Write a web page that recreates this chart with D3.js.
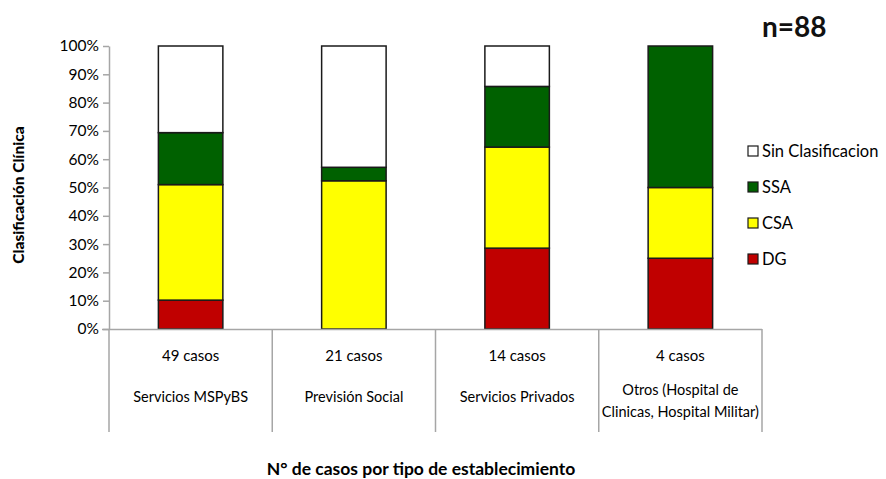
<!DOCTYPE html>
<html>
<head>
<meta charset="utf-8">
<script src="https://cdn.jsdelivr.net/npm/d3@7"></script>
<style>
  body { margin: 0; background: #fff; }
  text { font-family: Lato, "Open Sans", sans-serif; }
</style>
</head>
<body>
<script>
let w = 886;
let h = 479;

// cases per establishment and clinical class
let categories = ["Servicios MSPyBS", "Previsión Social", "Servicios Privados", "Otros (Hospital de|Clinicas, Hospital Militar)"];
let casos = ["49 casos", "21 casos", "14 casos", "4 casos"];
let dg  = [5, 0, 4, 1];
let csa = [20, 11, 5, 1];
let ssa = [9, 1, 3, 2];
let sin = [15, 9, 2, 0];
let seriesNames = ["DG", "CSA", "SSA", "Sin Clasificacion"];
let colors = ["#C00000", "#FFFF00", "#006100", "#FFFFFF"];
let yTicks = [0, 0.1, 0.2, 0.3, 0.4, 0.5, 0.6, 0.7, 0.8, 0.9, 1];

let rows = categories.map((c, i) => ({
    cat: c, "DG": dg[i], "CSA": csa[i], "SSA": ssa[i], "Sin Clasificacion": sin[i]
}));

let stacked = d3.stack()
    .keys(seriesNames)
    .offset(d3.stackOffsetExpand)(rows);

let mLeft = 109, mRight = 762, mTop = 46, mBottom = 329;

let x = d3.scaleBand()
    .domain(categories)
    .range([mLeft, mRight])
    .paddingInner(0)
    .paddingOuter(0);

let y = d3.scaleLinear().domain([0, 1]).range([mBottom, mTop]);

let color = d3.scaleOrdinal().domain(seriesNames).range(colors);

let svg = d3.select("body")
    .append("svg")
    .attr("width", w)
    .attr("height", h);

// cut-off title fragment (title sits above the visible area)
svg.append("text")
    .attr("x", 406)
    .attr("y", -4)
    .attr("font-size", 22)
    .attr("font-weight", "bold")
    .attr("fill", "#1f3864")
    .text("y");

svg.append("text")
    .attr("x", 762)
    .attr("y", 37)
    .attr("font-size", 28)
    .attr("font-weight", "bold")
    .attr("fill", "#111")
    .text("n=88");

// y axis
let yAxis = svg.append("g")
    .attr("transform", `translate(${mLeft},0)`)
    .call(d3.axisLeft(y).tickValues(yTicks).tickFormat(d3.format(".0%")).tickSize(6).tickSizeOuter(0));
yAxis.select(".domain").attr("stroke", "#a6a6a6").attr("stroke-width", 1.5);
yAxis.selectAll(".tick line").attr("stroke", "#a6a6a6").attr("stroke-width", 1.5);
yAxis.selectAll(".tick text")
    .attr("font-size", 15.5)
    .attr("fill", "#000")
    .attr("x", -10)
    .style("font-family", "Lato, sans-serif");

// bars
let barW = x.bandwidth() * 0.395;
svg.selectAll("g.layer")
    .data(stacked)
    .enter()
    .append("g")
    .attr("class", "layer")
    .attr("fill", d => color(d.key))
    .selectAll("rect")
    .data(d => d.filter(s => s[1] - s[0] > 0))
    .enter()
    .append("rect")
    .attr("x", d => x(d.data.cat) + (x.bandwidth() - barW) / 2)
    .attr("y", d => y(d[1]))
    .attr("width", barW)
    .attr("height", d => y(d[0]) - y(d[1]))
    .attr("stroke", "#1a1a1a")
    .attr("stroke-width", 1.5);

// category table
let grid = svg.append("g").attr("stroke", "#a6a6a6").attr("stroke-width", 1.5);
grid.append("line")
    .attr("x1", mLeft - 7).attr("x2", mRight)
    .attr("y1", mBottom + 0.5).attr("y2", mBottom + 0.5);
let edges = categories.map(c => x(c)).concat([x.range()[1]]);
grid.selectAll("line.sep")
    .data(edges)
    .enter()
    .append("line")
    .attr("class", "sep")
    .attr("x1", d => d).attr("x2", d => d)
    .attr("y1", mBottom).attr("y2", 432);

let lab = svg.append("g");
categories.forEach((c, i) => {
    let cx = x(c) + x.bandwidth() / 2;
    lab.append("text")
        .attr("x", cx).attr("y", 361)
        .attr("text-anchor", "middle")
        .attr("font-size", 15)
        .text(casos[i]);
    let parts = c.split("|");
    let y0 = parts.length > 1 ? 395 : 402;
    parts.forEach((p, j) => {
        lab.append("text")
            .attr("x", cx).attr("y", y0 + j * 22)
            .attr("text-anchor", "middle")
            .attr("font-size", 14.5)
            .text(p);
    });
});

// axis titles
svg.append("text")
    .attr("transform", "translate(24,195) rotate(-90)")
    .attr("text-anchor", "middle")
    .attr("font-size", 15.5)
    .attr("font-weight", "900")
    .text("Clasificación  Clínica");

svg.append("text")
    .attr("x", 421)
    .attr("y", 475)
    .attr("text-anchor", "middle")
    .attr("font-size", 17.5)
    .attr("font-weight", "bold")
    .text("N° de casos  por tipo de establecimiento");

// legend
let legendItems = seriesNames.slice().reverse();
let lg = svg.append("g");
legendItems.forEach((k, i) => {
    let ly = 151 + i * 36;
    lg.append("rect")
        .attr("x", 748).attr("y", ly - 5)
        .attr("width", 10).attr("height", 10)
        .attr("fill", color(k))
        .attr("stroke", "#1a1a1a")
        .attr("stroke-width", 1.2);
    lg.append("text")
        .attr("x", 762).attr("y", ly + 6)
        .attr("font-size", 16.5)
        .text(k);
});
</script>
</body>
</html>
